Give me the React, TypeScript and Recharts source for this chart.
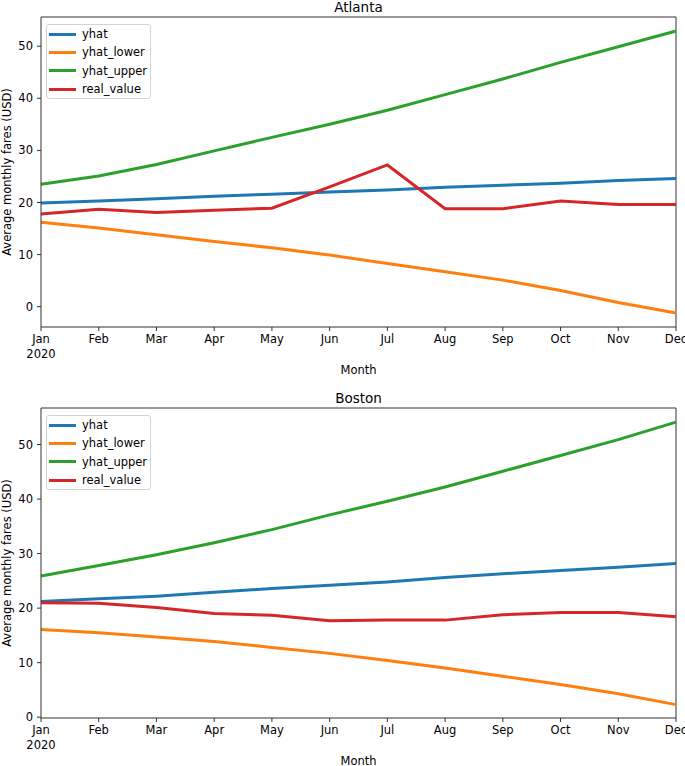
import React from 'react';
import { LineChart, Line, XAxis, YAxis, Legend, ReferenceLine } from 'recharts';

const months = ['Jan', 'Feb', 'Mar', 'Apr', 'May', 'Jun', 'Jul', 'Aug', 'Sep', 'Oct', 'Nov', 'Dec'];
const yTicks = [0, 10, 20, 30, 40, 50];
const seriesOrder = ['yhat', 'yhat_lower', 'yhat_upper', 'real_value'];

const atlYhat = [19.9, 20.3, 20.7, 21.2, 21.6, 22.0, 22.4, 22.9, 23.3, 23.7, 24.2, 24.6];
const atlLower = [16.2, 15.1, 13.8, 12.5, 11.3, 9.9, 8.3, 6.7, 5.1, 3.1, 0.8, -1.2];
const atlUpper = [23.5, 25.1, 27.3, 29.9, 32.5, 35.0, 37.7, 40.7, 43.7, 46.9, 49.9, 52.9];
const atlReal = [17.8, 18.7, 18.1, 18.5, 18.9, 23.0, 27.2, 18.8, 18.8, 20.3, 19.6, 19.6];

const bosYhat = [21.2, 21.7, 22.2, 22.9, 23.6, 24.2, 24.8, 25.6, 26.3, 26.9, 27.5, 28.2];
const bosLower = [16.1, 15.5, 14.7, 13.9, 12.8, 11.7, 10.4, 9.0, 7.5, 6.0, 4.3, 2.3];
const bosUpper = [25.9, 27.8, 29.8, 32.0, 34.4, 37.1, 39.6, 42.2, 45.1, 48.0, 50.9, 54.1];
const bosReal = [21.0, 20.9, 20.1, 19.0, 18.7, 17.7, 17.8, 17.8, 18.8, 19.2, 19.2, 18.4];

const FONT = '"DejaVu Sans", sans-serif';
const FS = 11.5;
const AXIS = '#333';

const MonthTick = (props: any) => {
  const { x, y, payload } = props;
  return (
    <g>
      <text x={x} y={y} dy={10} textAnchor="middle" fontSize={FS} fontFamily={FONT} fill="#000">
        {payload.value}
      </text>
      {payload.value === 'Jan' && (
        <text x={x} y={y} dy={25} textAnchor="middle" fontSize={FS} fontFamily={FONT} fill="#000">
          2020
        </text>
      )}
    </g>
  );
};

const LegendBox = (props: any) => {
  const payload = [...(props.payload || [])].sort(
    (a: any, b: any) => seriesOrder.indexOf(a.value) - seriesOrder.indexOf(b.value)
  );
  return (
    <div
      style={{
        width: 103,
        border: '1px solid #d3d3d3',
        borderRadius: 3,
        background: 'rgba(255,255,255,0.8)',
        fontFamily: FONT,
        fontSize: FS,
        color: '#000',
        boxSizing: 'content-box',
      }}
    >
      {payload.map((p: any) => (
        <div key={p.value} style={{ display: 'flex', alignItems: 'center', height: 18.3 }}>
          <div style={{ width: 27, height: 3, background: p.color, marginLeft: 2, marginRight: 6 }} />
          <span style={{ lineHeight: '18px', whiteSpace: 'nowrap' }}>{p.value}</span>
        </div>
      ))}
    </div>
  );
};

type CityProps = {
  title: string;
  yhat: number[];
  lower: number[];
  upper: number[];
  real: number[];
  domain: [number, number];
};

const CityChart = ({ title, yhat, lower, upper, real, domain }: CityProps) => {
  const data = months.map((m, i) => ({
    month: m,
    yhat: yhat[i],
    yhat_lower: lower[i],
    yhat_upper: upper[i],
    real_value: real[i],
  }));
  return (
    <LineChart width={685} height={381} data={data} margin={{ top: 17, right: 9, bottom: 6, left: 0 }}>
      <XAxis
        dataKey="month"
        interval={0}
        height={48}
        tickSize={4}
        tickMargin={2}
        tick={<MonthTick />}
        axisLine={{ stroke: AXIS }}
        tickLine={{ stroke: AXIS }}
        label={{ value: 'Month', position: 'insideBottom', offset: 1, fill: '#000', fontSize: FS, fontFamily: FONT }}
      />
      <YAxis
        type="number"
        domain={domain}
        ticks={yTicks}
        allowDataOverflow
        width={41}
        tickSize={4}
        tickMargin={4}
        axisLine={{ stroke: AXIS }}
        tickLine={{ stroke: AXIS }}
        tick={{ fill: '#000', fontSize: FS, fontFamily: FONT }}
        label={{
          value: 'Average monthly fares (USD)',
          angle: -90,
          position: 'insideLeft',
          offset: 7,
          fill: '#000',
          fontSize: FS,
          fontFamily: FONT,
          style: { textAnchor: 'middle' },
        }}
      />
      <ReferenceLine
        y={domain[1]}
        stroke={AXIS}
        ifOverflow="visible"
        label={{ value: title, position: 'top', offset: 5, fill: '#000', fontSize: 13.5, fontFamily: FONT }}
      />
      <ReferenceLine x="Dec" stroke={AXIS} ifOverflow="visible" />
      <Legend
        layout="vertical"
        align="center"
        verticalAlign="middle"
        content={<LegendBox />}
        wrapperStyle={{ position: 'absolute', left: 46, top: 24, width: 105 }}
      />
      <Line type="linear" dataKey="yhat" stroke="#1f77b4" strokeWidth={3} dot={false} activeDot={false} isAnimationActive={false} />
      <Line type="linear" dataKey="yhat_lower" stroke="#ff7f0e" strokeWidth={3} dot={false} activeDot={false} isAnimationActive={false} />
      <Line type="linear" dataKey="yhat_upper" stroke="#2ca02c" strokeWidth={3} dot={false} activeDot={false} isAnimationActive={false} />
      <Line type="linear" dataKey="real_value" stroke="#d62728" strokeWidth={3} dot={false} activeDot={false} isAnimationActive={false} />
    </LineChart>
  );
};

export default function App() {
  return (
    <div style={{ position: 'absolute', left: 0, top: 0, width: 685, height: 766, background: '#fff', overflow: 'hidden' }}>
      <div style={{ position: 'absolute', left: 0, top: 0 }}>
        <CityChart title="Atlanta" yhat={atlYhat} lower={atlLower} upper={atlUpper} real={atlReal} domain={[-3.9, 55.6]} />
      </div>
      <div style={{ position: 'absolute', left: 0, top: 391 }}>
        <CityChart title="Boston" yhat={bosYhat} lower={bosLower} upper={bosUpper} real={bosReal} domain={[-0.15, 56.7]} />
      </div>
    </div>
  );
}
